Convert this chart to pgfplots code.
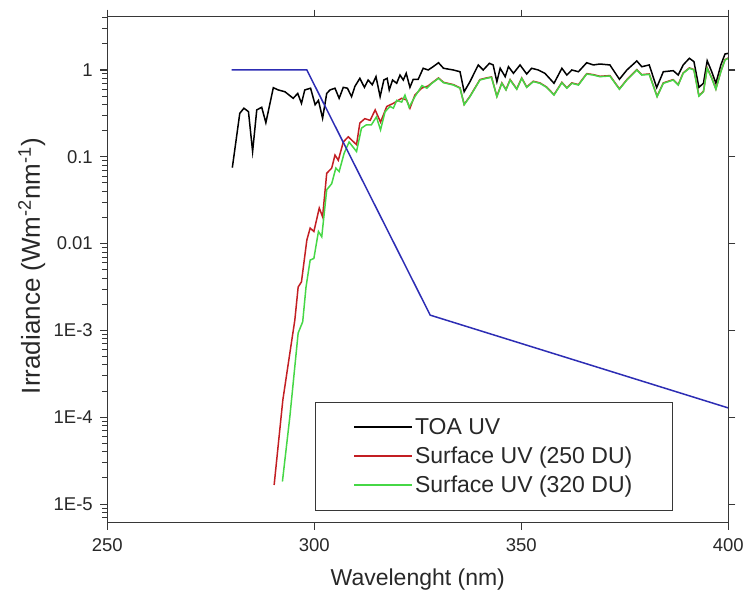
\documentclass[border=0pt]{standalone}
\usepackage{fontspec}
\setmainfont{Liberation Sans}
\usepackage{pgfplots}
\usepackage{pgfplotstable}
\pgfplotsset{compat=1.18}
\definecolor{cred}{RGB}{195,30,35}
\definecolor{cgreen}{RGB}{70,215,70}
\definecolor{cblue}{RGB}{45,45,180}
\definecolor{axc}{RGB}{55,55,55}
\definecolor{txc}{RGB}{40,40,40}

\pgfplotstableread{
x y
280.2 0.075
282.0 0.317
283.0 0.363
284.1 0.331
285.1 0.115
286.1 0.347
287.3 0.372
288.3 0.247
290.1 0.625
291.3 0.589
292.9 0.562
294.9 0.472
296.0 0.537
296.9 0.413
297.7 0.589
299.1 0.617
300.2 0.398
301.0 0.447
302.0 0.278
303.0 0.537
303.8 0.589
305.0 0.617
306.0 0.472
307.0 0.631
308.0 0.617
309.0 0.493
309.8 0.646
311.0 0.802
312.1 0.631
313.0 0.767
314.0 0.676
314.9 0.838
315.9 0.493
316.8 0.767
317.6 0.802
318.1 0.589
318.9 0.767
319.9 0.703
320.7 0.875
321.5 0.767
322.2 0.916
323.1 0.631
323.9 0.782
325.1 0.782
326.3 1.047
327.5 1.0
328.7 1.091
330.0 1.213
331.2 1.047
333.6 1.0
335.2 0.955
336.2 0.562
337.6 0.733
339.6 1.143
340.8 1.0
342.3 1.194
343.2 1.143
344.1 0.733
344.9 1.047
346.1 0.838
346.9 1.091
348.1 0.916
349.7 1.143
351.3 0.899
352.5 1.047
354.1 1.0
355.7 0.916
357.9 0.703
359.8 1.047
361.0 0.875
362.2 1.0
363.8 0.955
365.8 1.213
367.4 1.143
369.0 1.172
371.4 1.143
373.7 0.782
375.5 1.0
377.9 1.271
379.1 1.091
380.9 1.143
382.7 0.627
384.3 0.955
386.7 0.982
387.9 0.875
389.1 1.143
390.6 1.365
391.7 1.247
392.9 0.631
394.0 0.703
394.9 1.279
396.0 0.955
397.0 0.703
398.2 1.143
399.2 1.528
400.0 1.556
}\toa

\pgfplotstableread{
x y
292.3 1.82e-5
294.1 1.02e-4
296.1 9.33e-4
297.2 1.26e-3
298.0 3.16e-3
299.0 6.46e-3
299.9 6.76e-3
301.0 0.0138
301.8 0.0120
303.0 0.0417
304.2 0.0490
305.2 0.0741
306.0 0.0676
307.2 0.1096
308.4 0.148
310.2 0.115
311.4 0.214
312.6 0.234
313.8 0.234
315.0 0.288
316.0 0.204
317.1 0.331
318.3 0.380
319.1 0.363
319.9 0.447
321.1 0.427
321.9 0.513
322.9 0.372
324.3 0.493
326.0 0.661
327.2 0.617
328.4 0.703
330.0 0.802
331.2 0.714
333.6 0.671
335.2 0.617
336.2 0.398
337.6 0.493
340.0 0.767
341.6 0.802
342.8 0.824
344.1 0.493
345.3 0.703
346.3 0.589
347.3 0.767
348.9 0.600
350.1 0.802
351.3 0.631
352.9 0.735
354.5 0.703
356.1 0.631
357.9 0.515
359.8 0.714
361.0 0.617
362.2 0.703
363.8 0.671
365.8 0.899
367.4 0.875
369.0 0.838
371.4 0.853
373.7 0.600
375.5 0.767
377.9 1.0
379.1 0.875
380.9 0.891
382.8 0.493
384.3 0.703
386.7 0.767
387.9 0.671
389.1 0.916
390.6 1.047
391.7 1.0
392.9 0.501
394.0 0.562
394.9 1.047
396.0 0.802
397.0 0.600
398.2 0.955
399.2 1.303
400.0 1.361
}\surfB

\pgfplotstableread{
x y
290.3 1.66e-5
292.4 1.58e-4
294.1 5.50e-4
295.3 1.32e-3
296.1 3.16e-3
296.9 3.63e-3
298.2 0.0110
299.0 0.0151
299.9 0.0138
301.2 0.0257
302.0 0.0204
303.0 0.0646
304.2 0.0741
305.0 0.1047
305.8 0.0912
307.0 0.148
308.2 0.170
310.2 0.138
311.0 0.245
312.2 0.275
313.5 0.263
314.7 0.347
316.0 0.251
317.5 0.380
319.1 0.413
321.1 0.472
322.3 0.451
323.1 0.363
324.3 0.515
325.9 0.617
327.5 0.655
328.4 0.710
330.0 0.810
331.2 0.721
333.6 0.678
335.2 0.623
336.2 0.402
337.6 0.498
340.0 0.775
341.6 0.810
342.8 0.832
344.1 0.498
345.3 0.710
346.3 0.595
347.3 0.775
348.9 0.606
350.1 0.810
351.3 0.637
352.9 0.742
354.5 0.710
356.1 0.637
357.9 0.520
359.8 0.721
361.0 0.623
362.2 0.710
363.8 0.678
365.8 0.908
367.4 0.884
369.0 0.846
371.4 0.862
373.7 0.606
375.5 0.775
377.9 1.01
379.1 0.884
380.9 0.900
382.8 0.498
384.3 0.710
386.7 0.775
387.9 0.678
389.1 0.925
390.6 1.057
391.7 1.01
392.9 0.506
394.0 0.568
394.9 1.057
396.0 0.810
397.0 0.606
398.2 0.965
399.2 1.316
400.0 1.375
}\surfA

\pgfplotstableread{
x y
280 1.0
298.2 1.0
328 1.5e-3
400 1.28e-4
}\ozone

\begin{document}
\begin{tikzpicture}
\begin{axis}[
  scale only axis, width=621pt, height=506pt,
  xmin=250, xmax=400, ymode=log, ymin=6.1e-6, ymax=4.11,
  axis x line*=bottom, axis y line*=left,
  axis line style={draw=axc, line width=1.2pt},
  tick align=outside,
  major tick length=7pt, minor tick length=5pt,
  tick style={draw=axc, line width=1.1pt},
  minor tick style={draw=axc, line width=1pt},
  xtick={250,300,350,400},
  ytick={1e-5,1e-4,1e-3,1e-2,1e-1,1},
  minor ytick={7e-6,8e-6,9e-6,
    2e-5,3e-5,4e-5,5e-5,6e-5,7e-5,8e-5,9e-5,
    2e-4,3e-4,4e-4,5e-4,6e-4,7e-4,8e-4,9e-4,
    2e-3,3e-3,4e-3,5e-3,6e-3,7e-3,8e-3,9e-3,
    0.02,0.03,0.04,0.05,0.06,0.07,0.08,0.09,
    0.2,0.3,0.4,0.5,0.6,0.7,0.8,0.9,
    2,3,4},
  yticklabels={1E-5,1E-4,1E-3,0.01,0.1,1},
  /pgf/number format/assume math mode=true,
  tick label style={font=\fontsize{18.5}{22}\selectfont, text=txc},
  xticklabel style={yshift=-5pt},
  yticklabel style={xshift=-4pt},
  xlabel={Wavelenght (nm)},
  ylabel={Irradiance (Wm\textsuperscript{-2}nm\textsuperscript{-1})},
  xlabel style={font=\fontsize{23}{27}\selectfont, text=txc, at={(axis description cs:0.5,0)}, anchor=base, yshift=-62.3pt},
  ylabel style={font=\fontsize{26}{30}\selectfont, text=txc, at={(axis description cs:-0.1084,0.507)}, anchor=base, rotate=0},
  legend style={at={(0.3345,0.239)}, anchor=north west, draw=axc, line width=1pt,
    font=\fontsize{23}{27}\selectfont, text=txc,
    inner xsep=38pt, inner ysep=14pt, row sep=7pt},
  legend cell align=left,
  legend image code/.code={\draw[#1, line width=1.5pt] (0pt,0pt) -- (58pt,0pt);},
]
\addplot[black, line width=1.5pt] table[x=x,y=y] {\toa};
\addlegendentry{TOA UV}
\addplot[cred, line width=1.5pt] table[x=x,y=y] {\surfA};
\addlegendentry{Surface UV (250 DU)}
\addplot[cgreen, line width=1.5pt] table[x=x,y=y] {\surfB};
\addlegendentry{Surface UV (320 DU)}
\addplot[cblue, line width=1.5pt, forget plot] table[x=x,y=y] {\ozone};
\coordinate (bl) at (rel axis cs:0,0);
\coordinate (tr) at (rel axis cs:1,1);
\end{axis}
\begin{axis}[
  scale only axis, width=621pt, height=506pt,
  xmin=250, xmax=400, ymode=log, ymin=6.1e-6, ymax=4.11,
  axis x line*=top, axis y line*=right,
  axis line style={draw=axc, line width=1.2pt},
  tick align=outside,
  major tick length=7pt,
  tick style={draw=axc, line width=1.1pt},
  xtick={250,300,350,400},
  ytick={1e-5,1e-4,1e-3,1e-2,1e-1,1},
  xticklabels={}, yticklabels={},
  yminorticks=false,
]
\end{axis}
\pgfresetboundingbox
\path[use as bounding box] ([shift={(-107.3pt,-74.3pt)}]bl) rectangle ([shift={(15.7pt,16.7pt)}]tr);
\end{tikzpicture}
\end{document}
